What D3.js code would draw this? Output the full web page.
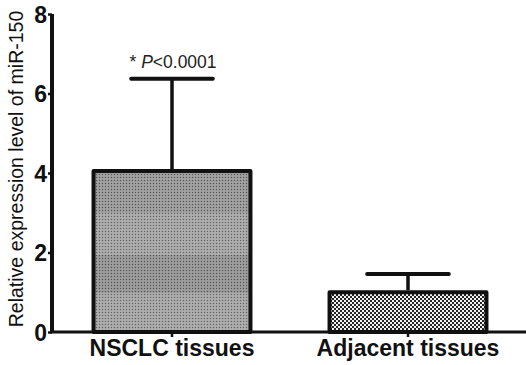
<!DOCTYPE html>
<html><head><meta charset="utf-8">
<script src="https://cdn.jsdelivr.net/npm/d3@7"></script>
<style>body{margin:0;background:#fff}svg{display:block}</style>
</head><body>
<script>
const categories = ["NSCLC tissues", "Adjacent tissues"];
const means = [4.05, 1.0];
const errors = [2.32, 0.46];
const yTicks = [0, 2, 4, 6, 8];
const annotation = ["* ", "P", "<0.0001"];

const W = 526, H = 365;
const svg = d3.select("body").append("svg").attr("width", W).attr("height", H);
const defs = svg.append("defs");

const p1 = defs.append("pattern").attr("id","fine").attr("width",3).attr("height",3).attr("patternUnits","userSpaceOnUse");
p1.append("rect").attr("width",3).attr("height",3).attr("fill","#9e9e9e");
p1.append("rect").attr("width",1).attr("height",1).attr("fill","#5a5a5a");
p1.append("rect").attr("x",1.5).attr("y",1.5).attr("width",1).attr("height",1).attr("fill","#cccccc");
const p2 = defs.append("pattern").attr("id","coarse").attr("width",4).attr("height",4).attr("patternUnits","userSpaceOnUse");
p2.append("rect").attr("width",4).attr("height",4).attr("fill","#262626");
p2.append("rect").attr("width",2).attr("height",2).attr("fill","#f2f2f2");
p2.append("rect").attr("x",2).attr("y",2).attr("width",2).attr("height",2).attr("fill","#f2f2f2");

const bands = defs.append("linearGradient").attr("id","bands").attr("x1",0).attr("y1",0).attr("x2",0).attr("y2",1);
[[0,"#000",0.04],[0.26,"#000",0.04],[0.26,"#fff",0.06],[0.52,"#fff",0.06],[0.52,"#000",0.07],[0.76,"#000",0.07],[0.76,"#fff",0.06],[1,"#fff",0.06]]
  .forEach(s=>bands.append("stop").attr("offset",s[0]).attr("stop-color",s[1]).attr("stop-opacity",s[2]));

const y = d3.scaleLinear().domain([0, 8]).range([332, 14]);
const x = d3.scaleBand().domain(categories).range([54, 526]).paddingInner(0.335).paddingOuter(0.1675);

const fills = ["url(#fine)", "url(#coarse)"];
const data = categories.map((c,i)=>({c, m:means[i], e:errors[i], f:fills[i]}));

const g = svg.append("g");
g.selectAll(".bar").data(data).enter().append("rect")
  .attr("x", d=>x(d.c)).attr("y", d=>y(d.m))
  .attr("width", x.bandwidth()).attr("height", d=>y(0)-y(d.m))
  .attr("fill", d=>d.f);
g.append("rect").attr("x", x(categories[0])).attr("y", y(means[0]))
  .attr("width", x.bandwidth()).attr("height", y(0)-y(means[0])).attr("fill","url(#bands)");
g.selectAll(".barO").data(data).enter().append("rect")
  .attr("x", d=>x(d.c)).attr("y", d=>y(d.m))
  .attr("width", x.bandwidth()).attr("height", d=>y(0)-y(d.m))
  .attr("fill","none").attr("stroke","#111").attr("stroke-width",4).attr("stroke-linejoin","round");

const cx = d=>x(d.c)+x.bandwidth()/2;
g.selectAll(".ev").data(data).enter().append("line")
  .attr("x1",cx).attr("x2",cx).attr("y1",d=>y(d.m)-2).attr("y2",d=>y(d.m+d.e))
  .attr("stroke","#111").attr("stroke-width",3.5);
g.selectAll(".ec").data(data).enter().append("line")
  .attr("x1",d=>cx(d)-x.bandwidth()*0.26).attr("x2",d=>cx(d)+x.bandwidth()*0.26)
  .attr("y1",d=>y(d.m+d.e)).attr("y2",d=>y(d.m+d.e))
  .attr("stroke","#111").attr("stroke-width",4).attr("stroke-linecap","round");

const ya = svg.append("g").attr("transform","translate(52,0)")
  .call(d3.axisLeft(y).tickValues(yTicks).tickSize(4).tickPadding(1).tickFormat(d3.format("d")));
ya.select(".domain").attr("d", `M0,${y(8)}V${y(0)}`).attr("stroke","#111").attr("stroke-width",4);
ya.selectAll(".tick line").attr("stroke","#111").attr("stroke-width",2.5);
ya.selectAll(".tick text").attr("font-family","Liberation Sans, Arial, sans-serif").attr("font-weight","bold")
  .attr("font-size",23).attr("fill","#111").attr("dy","0.36em");

const xa = svg.append("g").attr("transform",`translate(0,${y(0)})`)
  .call(d3.axisBottom(x).tickSize(5).tickPadding(3));
xa.select(".domain").attr("d", `M50,0H526`).attr("stroke","#111").attr("stroke-width",3);
xa.selectAll(".tick line").attr("stroke","#111").attr("stroke-width",2.5);
xa.selectAll(".tick text").attr("font-family","Liberation Sans, Arial, sans-serif").attr("font-weight","bold")
  .attr("font-size",23).attr("fill","#111");

svg.append("text").attr("transform","translate(23,169) rotate(-90)")
  .attr("text-anchor","middle").attr("font-family","Liberation Sans, Arial, sans-serif")
  .attr("font-size",19.5).attr("fill","#111").text("Relative expression level of miR-150");

const t = svg.append("text").attr("x", cx(data[0])+1).attr("y", 68).attr("text-anchor","middle")
  .attr("font-family","Liberation Sans, Arial, sans-serif").attr("font-size",17.5).attr("fill","#222");
t.append("tspan").text(annotation[0]);
t.append("tspan").attr("font-style","italic").text(annotation[1]);
t.append("tspan").text(annotation[2]);
</script>
</body></html>
